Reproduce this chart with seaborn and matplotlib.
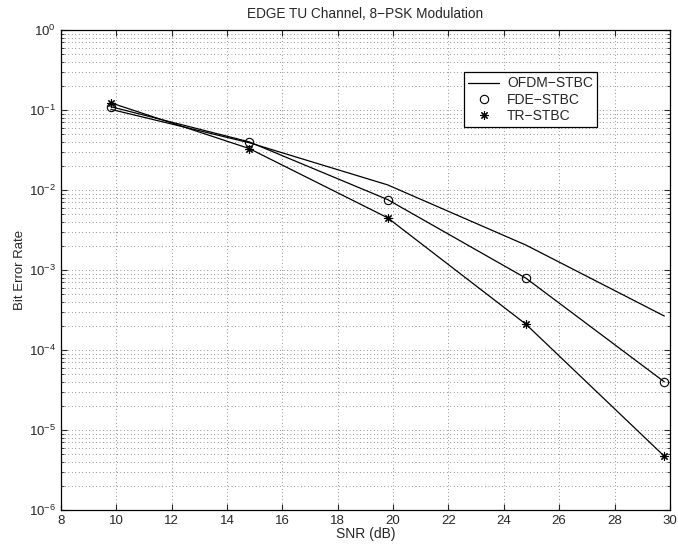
import numpy as np
import pandas as pd
import matplotlib.pyplot as plt
import seaborn as sns
from matplotlib.lines import Line2D

plt.switch_backend("Agg")

# values
snr = [9.8, 14.8, 19.8, 24.8, 29.8]
ber_ofdm = [0.102, 0.039, 0.0116, 0.00205, 0.000266]
ber_fde = [0.110, 0.040, 0.0076, 0.00079, 0.000040]
ber_tr = [0.123, 0.033, 0.0045, 0.00021, 0.0000047]
schemes = ["OFDM\u2212STBC", "FDE\u2212STBC", "TR\u2212STBC"]

sns.set_style("ticks")
plt.rcParams["font.family"] = ["Liberation Sans", "DejaVu Sans"]
plt.rcParams["mathtext.default"] = "regular"
plt.rcParams["font.size"] = 9.5

df = pd.DataFrame({
    "SNR": snr * 3,
    "BER": ber_ofdm + ber_fde + ber_tr,
    "scheme": [s for s in schemes for _ in snr],
})

fig = plt.figure(figsize=(6.78, 5.5), dpi=100)
ax = fig.add_axes([0.090, 0.0727, 0.898, 0.8727])

marks = {schemes[0]: None, schemes[1]: "o", schemes[2]: (8, 2, 0)}
for s in schemes:
    sub = df[df["scheme"] == s]
    sns.lineplot(data=sub, x="SNR", y="BER", ax=ax, color="k", lw=0.9,
                 marker=marks[s], markersize=6, mfc="none", mec="k", mew=0.8,
                 legend=False)

ax.set_yscale("log")
ax.set_xlim(8, 30)
ax.set_ylim(1e-6, 1)
ax.set_xticks(np.arange(8, 31, 2))
ax.set_yticks([10.0 ** k for k in range(-6, 1)])

ax.grid(True, which="major", axis="both", color="0.2", lw=0.5, linestyle=(0, (1, 4)))
ax.grid(True, which="minor", axis="y", color="0.2", lw=0.5, linestyle=(0, (1, 4)))
ax.tick_params(which="both", direction="in", top=True, right=True, labelsize=9.5)
ax.tick_params(which="major", length=4)
ax.tick_params(which="minor", length=2)
for sp in ax.spines.values():
    sp.set_linewidth(0.9)
    sp.set_color("k")

ax.set_title("EDGE TU Channel, 8\u2212PSK Modulation", fontsize=9.8, pad=9)
ax.set_xlabel("SNR (dB)", fontsize=10, labelpad=0)
ax.set_ylabel("Bit Error Rate", fontsize=9.5, labelpad=2)

handles = [
    Line2D([], [], color="k", lw=0.9),
    Line2D([], [], color="k", ls="none", marker="o", mfc="none", markersize=6, mew=0.8),
    Line2D([], [], color="k", ls="none", marker=(8, 2, 0), markersize=6, mew=0.8),
]
leg = ax.legend(handles, schemes, loc="upper left", bbox_to_anchor=(0.662, 0.912),
                frameon=True, fancybox=False, edgecolor="k", framealpha=1,
                fontsize=10, handlelength=2.2, borderpad=0.3, labelspacing=0.15,
                handletextpad=0.6, borderaxespad=0)
leg.get_frame().set_linewidth(0.9)

fig.savefig("out.png", dpi=100)
